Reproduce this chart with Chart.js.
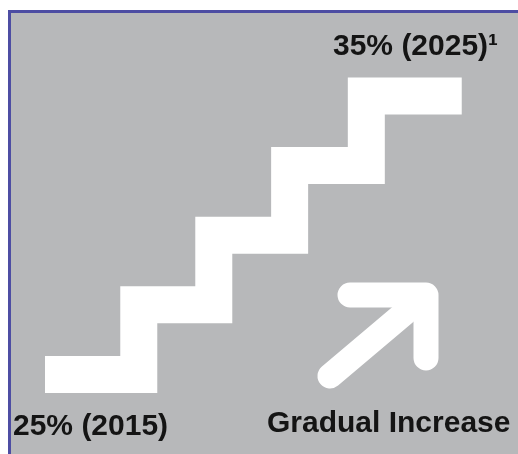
<!DOCTYPE html>
<html>
<head>
<meta charset="utf-8">
<script src="https://cdn.jsdelivr.net/npm/chart.js@4"></script>
<style>
    body { margin: 0; background: #fff; }
    #box {
        position: absolute;
        left: 8px;
        top: 10px;
        right: 0;
        bottom: 0;
        background: #b7b8ba;
        border-left: 3px solid #4d4da3;
        border-top: 3px solid #4d4da3;
    }
    #stairs { position: absolute; left: 0; top: 0; }
</style>
</head>
<body>
<div id="box"></div>
<canvas id="stairs" width="518" height="454"></canvas>
<script>
// where each step begins (year) and the share it reaches (%)
const years = [2015, 2017.25, 2019.05, 2020.87, 2022.71, 2025];
const shares = [25, 27.5, 30, 32.5, 35, 35];
const caption = "Gradual Increase";

const points = [];
for (i = 0; i < years.length; i++) {
    points.push({ x: years[i], y: shares[i] });
}

const last = years.length - 1;
const startLabel = shares[0] + "% (" + years[0] + ")";
const endLabel = shares[last] + "% (" + years[last] + ")\u00B9";

// labels + the arrow, drawn on top of the stairs
const decor = {
    id: "decor",
    afterDatasetsDraw(chart) {
        const ctx = chart.ctx;
        ctx.save();

        // arrow
        ctx.strokeStyle = "#fff";
        ctx.lineWidth = 25;
        ctx.lineCap = "round";
        ctx.lineJoin = "round";
        ctx.beginPath();
        ctx.moveTo(350, 295);
        ctx.lineTo(426, 295);
        ctx.lineTo(426, 358);
        ctx.stroke();
        ctx.beginPath();
        ctx.moveTo(330, 376);
        ctx.lineTo(420, 300);
        ctx.stroke();

        ctx.fillStyle = "#141414";
        ctx.font = "bold 30px 'Liberation Sans', Arial, sans-serif";
        ctx.textBaseline = "alphabetic";
        ctx.textAlign = "left";
        ctx.fillText(endLabel, 333, 55);
        ctx.fillText(startLabel, 13, 435);
        ctx.fillText(caption, 267, 432);
        ctx.restore();
    },
};

const stairs = document.getElementById("stairs");
new Chart(stairs, {
    type: "line",
    data: {
        datasets: [
            {
                data: points,
                stepped: "before",
                borderColor: "#ffffff",
                borderWidth: 37,
                borderCapStyle: "butt",
                borderJoinStyle: "miter",
                pointRadius: 0,
                fill: false,
            },
        ],
    },
    options: {
        responsive: false,
        animation: false,
        layout: { autoPadding: false, padding: 0 },
        scales: {
            x: { type: "linear", display: false, min: 2013.92, max: 2026.35 },
            y: { type: "linear", display: false, min: 22.145, max: 38.447 },
        },
        plugins: {
            legend: { display: false },
            tooltip: { enabled: false },
        },
    },
    plugins: [decor],
});
</script>
</body>
</html>
